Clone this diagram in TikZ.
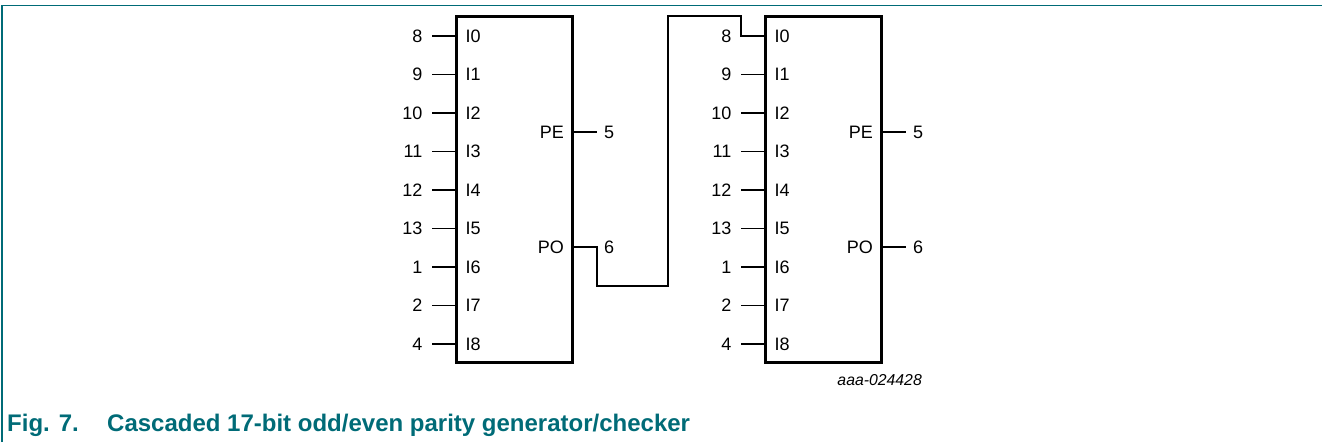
\documentclass[tikz,border=0pt]{standalone}
\usepackage{fontspec}
\setmainfont{Liberation Sans}
\definecolor{nxpteal}{HTML}{006B77}
\tikzset{
  x=1pt,y=-1pt,
  chip/.style={draw=black,line width=3pt,minimum width=116.5pt,minimum height=346.5pt,inner sep=0pt,outer sep=0pt},
  wire/.style={draw=black,line width=1.1pt},
  pinname/.style={font=\fontsize{18}{21}\selectfont,inner sep=0pt,text=black},
  capt/.style={font=\fontsize{24}{28}\selectfont\bfseries,text=nxpteal,inner sep=0pt,anchor=base west},
  frame/.style={draw=nxpteal,line width=1.3pt}
}
\newcommand{\chipunit}[2]{% name, left x
  \node[chip,anchor=north west] (#1) at (#2,16) {};
  \foreach \pin/\num/\yy in {0/8/36,1/9/74.5,2/10/113,3/11/151.5,4/12/190,5/13/228.5,6/1/267,7/2/305.5,8/4/344}{
    \node[pinname,anchor=west] (#1I\pin) at ($(#2,\yy)+(9.5,0)$) {I\pin};
    \coordinate (#1P\pin) at (#2,\yy);
    \coordinate (#1E\pin) at ($(#2,\yy)+(-24,0)$);
    \node[pinname,anchor=east] (#1N\pin) at ($(#2,\yy)+(-33.5,0)$) {\num};
  }
  \foreach \oname/\onum/\yy in {PE/5/132,PO/6/247}{
    \node[pinname,anchor=east] (#1\oname) at ($(#2,\yy)+(108,0)$) {\oname};
    \coordinate (#1\oname P) at ($(#2,\yy)+(116.5,0)$);
    \coordinate (#1\oname E) at ($(#2,\yy)+(140.5,0)$);
    \node[pinname,anchor=west] (#1\oname N) at ($(#2,\yy)+(148,0)$) {\onum};
  }
}
\usetikzlibrary{calc}
\begin{document}
\begin{tikzpicture}
\useasboundingbox (0,0) rectangle (1322,442);
\coordinate (ftop) at (2,5.5);
\coordinate (fright) at (1322,5.5);
\coordinate (fbot) at (2,442);
\draw[frame] (fbot) -- (ftop) -- (fright);
\chipunit{a}{456}
\chipunit{b}{765}
\foreach \i in {0,...,8}{\draw[wire] (aE\i) -- (aP\i);}
\foreach \i in {1,...,8}{\draw[wire] (bE\i) -- (bP\i);}
\draw[wire] (aPEP) -- (aPEE);
\draw[wire] (bPEP) -- (bPEE);
\draw[wire] (bPOP) -- (bPOE);
\coordinate (j1) at (597,286);
\coordinate (j2) at (668,286);
\coordinate (j3) at (668,16);
\coordinate (j4) at (741,16);
\draw[wire] (aPOP) -| (j1) -- (j2) -- (j3) -- (j4) |- (bP0);
\node[font=\fontsize{15.8}{18}\selectfont\itshape,inner sep=0pt,anchor=base east] (code) at (922,385.5) {aaa-024428};
\node[capt] (fignum) at (7,431.5) {Fig. 7.};
\node[capt] (figtext) at (107,431.5) {Cascaded 17-bit odd/even parity generator/checker};
\end{tikzpicture}
\end{document}
